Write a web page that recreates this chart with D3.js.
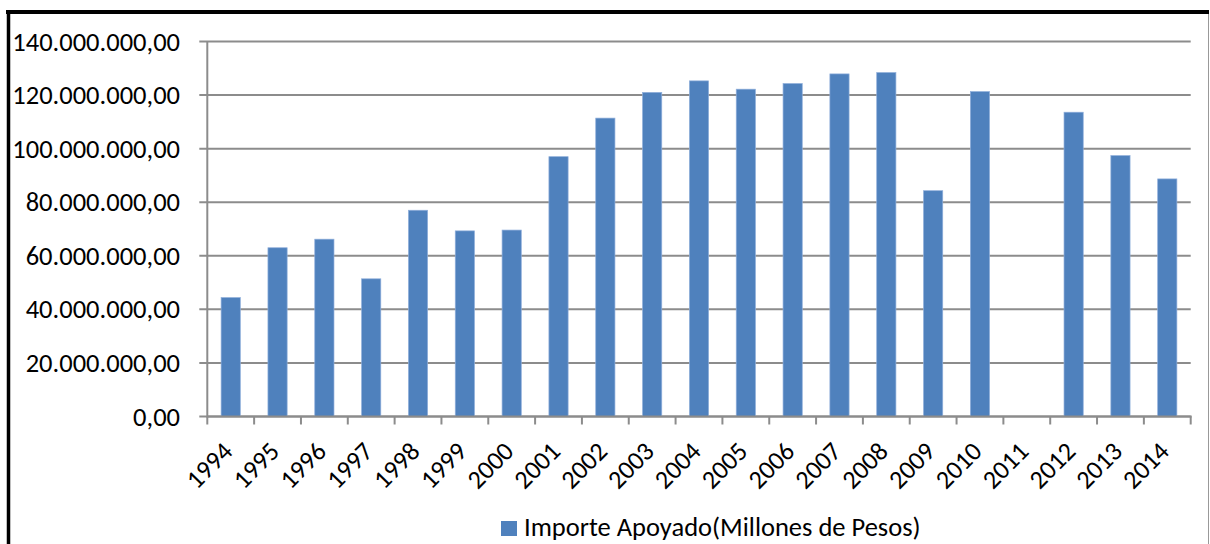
<!DOCTYPE html>
<html>
<head>
<meta charset="utf-8">
<script src="https://cdn.jsdelivr.net/npm/d3@7"></script>
<style>
  body { margin: 0; background: #fff; }
  text { font-family: Carlito, Lato, sans-serif; fill: #000; }
</style>
</head>
<body>
<svg class="chart" width="1210" height="544"></svg>
<script>
// Importe apoyado por año, bar chart

var years = ["1994", "1995", "1996", "1997", "1998", "1999", "2000", "2001", "2002", "2003", "2004",
             "2005", "2006", "2007", "2008", "2009", "2010", "2011", "2012", "2013", "2014"];
var importe = [44.4e6, 63.0e6, 66.2e6, 51.4e6, 77.0e6, 69.3e6, 69.6e6, 97.0e6, 111.4e6, 121.0e6, 125.3e6,
               122.2e6, 124.3e6, 127.9e6, 128.4e6, 84.3e6, 121.3e6, 0, 113.6e6, 97.4e6, 88.7e6];
var yTicks = [0, 20e6, 40e6, 60e6, 80e6, 100e6, 120e6, 140e6];
var seriesName = "Importe Apoyado(Millones de Pesos)";

var BAR_COLOR = "#4f81bd";
var GRID_COLOR = "#8c8c8c";
var PLOT_L = 207.3, PLOT_R = 1190.7, PLOT_T = 41.5, PLOT_B = 416.5;

var esLocale = d3.formatLocale({ decimal: ",", thousands: ".", grouping: [3], currency: ["", ""] });
var fmt = esLocale.format(",.2f");

var svg = d3.select(".chart");

svg.append("rect").attr("width", 1210).attr("height", 544).attr("fill", "#fff");

// outer frame (cropped at bottom)
svg.append("line").attr("x1", 1208.5).attr("x2", 1208.5).attr("y1", 12).attr("y2", 544)
    .attr("stroke", "#999").attr("stroke-width", 1);
svg.append("line").attr("x1", 6).attr("x2", 1209).attr("y1", 12).attr("y2", 12)
    .attr("stroke", "#000").attr("stroke-width", 4);
svg.append("line").attr("x1", 8.5).attr("x2", 8.5).attr("y1", 10).attr("y2", 544)
    .attr("stroke", "#000").attr("stroke-width", 3.5);

var x = d3.scaleBand().domain(years).range([PLOT_L, PLOT_R])
    .paddingInner(0.59).paddingOuter(0.295);
var y = d3.scaleLinear().domain([0, 140e6]).range([PLOT_B, PLOT_T]);

// gridlines + y tick marks
svg.append("g").selectAll("line").data(yTicks).join("line")
    .attr("x1", PLOT_L - 8).attr("x2", PLOT_R)
    .attr("y1", d => y(d)).attr("y2", d => y(d))
    .attr("stroke", GRID_COLOR).attr("stroke-width", 2);

// y labels
svg.append("g").selectAll("text").data(yTicks).join("text")
    .attr("x", 180).attr("y", d => y(d))
    .attr("text-anchor", "end").attr("dominant-baseline", "central")
    .style("font-size", "26.5px")
    .text(d => fmt(d));

// bars
svg.append("g").selectAll("rect").data(importe).join("rect")
    .attr("x", (d, i) => x(years[i]))
    .attr("y", d => y(d))
    .attr("width", x.bandwidth())
    .attr("height", d => y(0) - y(d))
    .attr("fill", BAR_COLOR)
    .attr("stroke", "#8faedb").attr("stroke-width", 0.7);

// axes lines
svg.append("line").attr("x1", PLOT_L).attr("x2", PLOT_L).attr("y1", PLOT_T).attr("y2", PLOT_B + 1)
    .attr("stroke", GRID_COLOR).attr("stroke-width", 2);
svg.append("line").attr("x1", PLOT_L).attr("x2", PLOT_R + 1).attr("y1", PLOT_B).attr("y2", PLOT_B)
    .attr("stroke", GRID_COLOR).attr("stroke-width", 2);

// x tick marks at category boundaries
var step = x.step();
var bounds = d3.range(years.length + 1).map(i => PLOT_L + i * step);
svg.append("g").selectAll("line").data(bounds).join("line")
    .attr("x1", d => d).attr("x2", d => d)
    .attr("y1", PLOT_B).attr("y2", PLOT_B + 8)
    .attr("stroke", GRID_COLOR).attr("stroke-width", 2);

// x labels rotated
svg.append("g").selectAll("text").data(years).join("text")
    .attr("transform", d => "translate(" + (x(d) + x.bandwidth() / 2 - 3) + "," + (PLOT_B + 30) + ") rotate(-45)")
    .attr("text-anchor", "end").attr("dominant-baseline", "central")
    .style("font-size", "26px")
    .text(d => d);

// legend
svg.append("rect").attr("x", 501).attr("y", 521).attr("width", 16).attr("height", 15).attr("fill", BAR_COLOR);
svg.append("text").attr("x", 524).attr("y", 536)
    .style("font-size", "26.5px")
    .text(seriesName);
</script>
</body>
</html>
